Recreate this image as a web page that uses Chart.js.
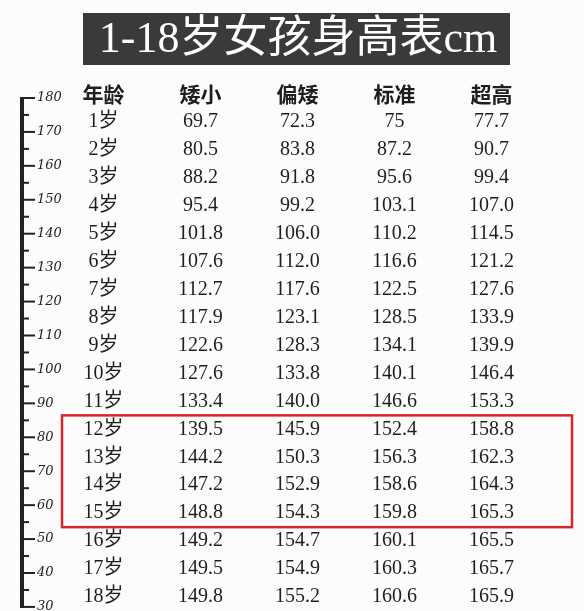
<!DOCTYPE html>
<html>
<head>
<meta charset="utf-8">
<script src="https://cdn.jsdelivr.net/npm/chart.js@4"></script>
<style>
  html, body { margin: 0; padding: 0; background: #fcfcfc; }
  #wrap { width: 584px; height: 611px; }
</style>
</head>
<body>
<div id="wrap"><canvas id="myChart" width="584" height="611"></canvas></div>
<script>
const columns = ['年龄', '矮小', '偏矮', '标准', '超高'];
const rows = ['header', '1岁', '2岁', '3岁', '4岁', '5岁', '6岁', '7岁', '8岁', '9岁',
  '10岁', '11岁', '12岁', '13岁', '14岁', '15岁', '16岁', '17岁', '18岁'];
const shortValues = ['69.7', '80.5', '88.2', '95.4', '101.8', '107.6', '112.7', '117.9', '122.6',
  '127.6', '133.4', '139.5', '144.2', '147.2', '148.8', '149.2', '149.5', '149.8'];
const lowValues = ['72.3', '83.8', '91.8', '99.2', '106.0', '112.0', '117.6', '123.1', '128.3',
  '133.8', '140.0', '145.9', '150.3', '152.9', '154.3', '154.7', '154.9', '155.2'];
const standardValues = ['75', '87.2', '95.6', '103.1', '110.2', '116.6', '122.5', '128.5', '134.1',
  '140.1', '146.6', '152.4', '156.3', '158.6', '159.8', '160.1', '160.3', '160.6'];
const tallValues = ['77.7', '90.7', '99.4', '107.0', '114.5', '121.2', '127.6', '133.9', '139.9',
  '146.4', '153.3', '158.8', '162.3', '164.3', '165.3', '165.5', '165.7', '165.9'];
const rulerTicks = [];
for (let v = 30; v <= 180; v += 5) rulerTicks.push(v);
const highlightRows = ['12岁', '15岁'];

const ages = rows.slice(1);
const cellSets = [ages, shortValues, lowValues, standardValues, tallValues];

const datasets = [{
  label: 'header',
  data: columns.map((c, i) => ({ x: c, y: 'header', text: c })),
  font: 'bold 21px "Noto Sans CJK SC"'
}];
cellSets.forEach((vals, ci) => {
  datasets.push({
    label: columns[ci],
    data: vals.map((v, ri) => ({ x: columns[ci], y: ages[ri], text: v })),
    font: '20px "Liberation Serif", "Noto Sans CJK SC"'
  });
});
datasets.forEach(d => { d.pointRadius = 0; d.showLine = false; });

const tablePlugin = {
  id: 'tableText',
  beforeDraw(chart) {
    const c = chart.ctx;
    c.save();
    c.fillStyle = '#fcfcfc';
    c.fillRect(0, 0, chart.width, chart.height);
    // title banner
    c.fillStyle = '#3b3939';
    c.fillRect(83, 13, 427, 52);
    c.fillStyle = '#ffffff';
    c.font = '44px "Liberation Serif", "Noto Sans CJK SC"';
    c.textAlign = 'center';
    c.textBaseline = 'middle';
    c.fillText('1-18岁女孩身高表cm', 298, 40);
    c.restore();
  },
  afterDatasetsDraw(chart) {
    const c = chart.ctx;
    c.save();
    c.fillStyle = '#1e1e1e';
    c.textAlign = 'center';
    c.textBaseline = 'middle';
    chart.data.datasets.forEach((ds, di) => {
      c.font = ds.font;
      chart.getDatasetMeta(di).data.forEach((el, i) => {
        c.fillText(ds.data[i].text, el.x, el.y);
      });
    });
    // ruler
    const r = chart.scales.ruler;
    c.strokeStyle = '#222';
    c.lineWidth = 4;
    c.beginPath();
    c.moveTo(22, r.getPixelForValue(180) - 1);
    c.lineTo(22, r.getPixelForValue(30) + 1);
    c.stroke();
    c.lineWidth = 2;
    c.font = 'italic 13px "DejaVu Serif"';
    c.textAlign = 'left';
    rulerTicks.forEach(v => {
      const y = r.getPixelForValue(v);
      const major = v % 10 === 0;
      c.beginPath();
      c.moveTo(22, y);
      c.lineTo(major ? 35 : 29, y);
      c.stroke();
      if (major) c.fillText(String(v), 37, y);
    });
    // red highlight box
    const ys = chart.scales.y;
    const step = ys.getPixelForValue(1) - ys.getPixelForValue(0);
    const top = ys.getPixelForValue(rows.indexOf(highlightRows[0])) - step / 2;
    const bot = ys.getPixelForValue(rows.indexOf(highlightRows[1])) + step / 2;
    c.strokeStyle = '#d9252a';
    c.lineWidth = 2.5;
    c.strokeRect(62, top, 510, bot - top);
    c.restore();
  }
};

new Chart(document.getElementById('myChart').getContext('2d'), {
  type: 'scatter',
  data: { datasets },
  plugins: [tablePlugin],
  options: {
    responsive: false,
    animation: false,
    layout: { padding: { top: 80, bottom: 0, left: 55, right: 44 } },
    plugins: { legend: { display: false }, tooltip: { enabled: false } },
    scales: {
      x: { type: 'category', labels: columns, offset: true, display: false },
      y: { type: 'category', labels: rows, offset: true, display: false },
      ruler: { type: 'linear', position: 'left', min: 28.8, max: 185.3, display: false }
    }
  }
});
</script>
</body>
</html>
